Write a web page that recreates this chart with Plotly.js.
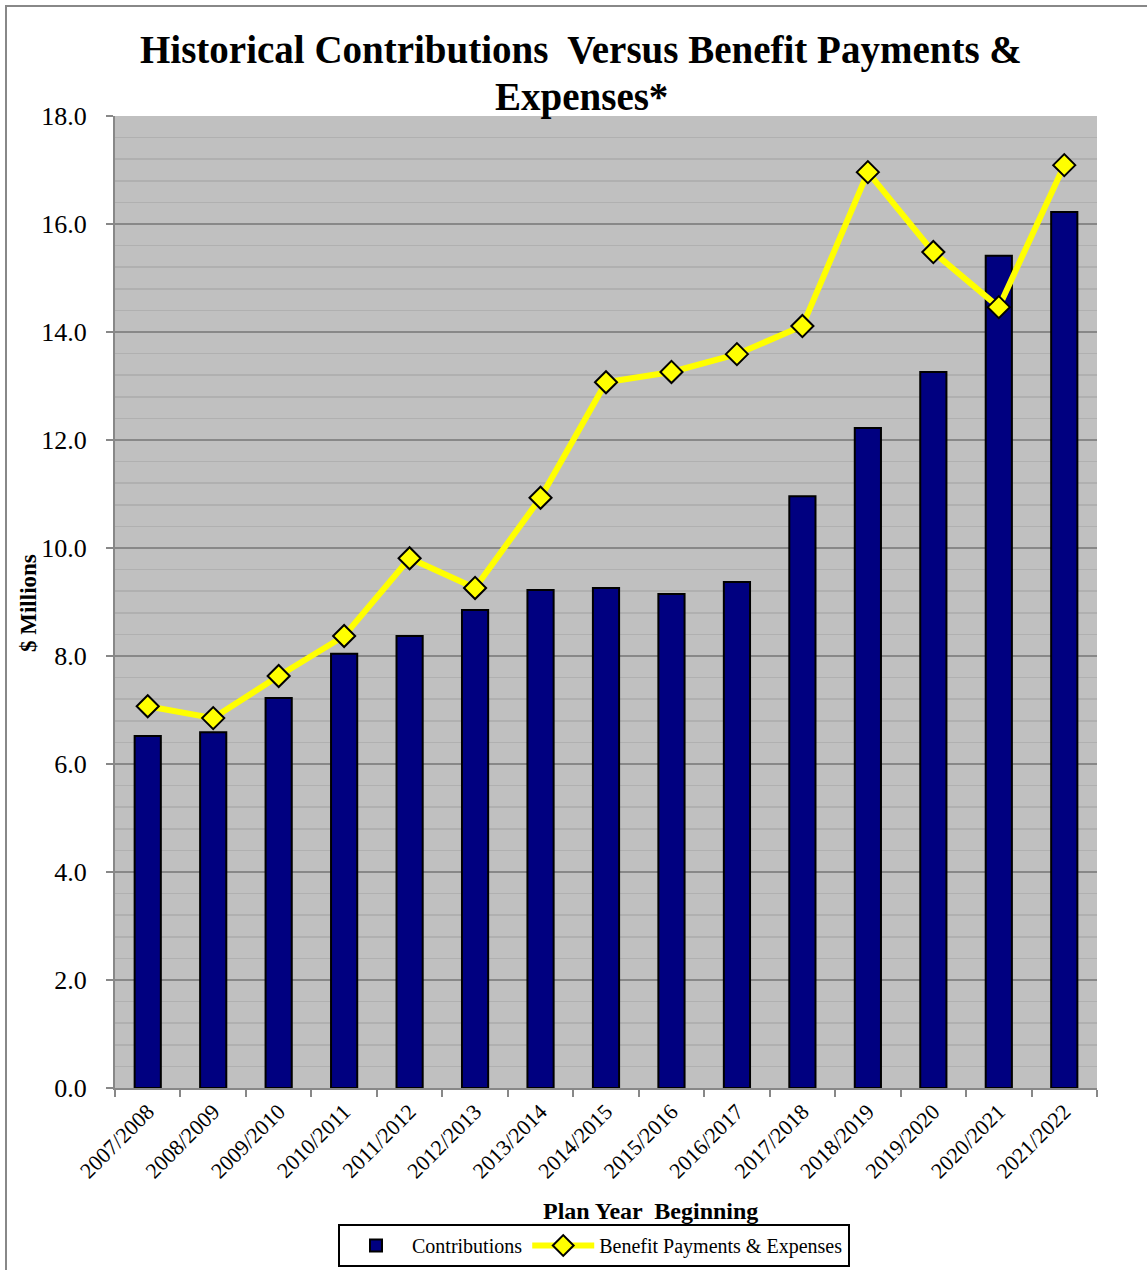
<!DOCTYPE html>
<html>
<head>
<meta charset="utf-8">
<script src="https://cdn.plot.ly/plotly-3.0.1.min.js"></script>
<style>
  html, body { margin: 0; padding: 0; background: #fff; }
  #wrap { position: relative; width: 1147px; height: 1270px; }
  #frame { position: absolute; left: 5px; top: 5px; right: 0; bottom: 0; border-left: 2px solid #888; border-top: 2px solid #888; pointer-events: none; }
  #chart { position: absolute; left: 0; top: 0; width: 1147px; height: 1270px; }
</style>
</head>
<body>
<div id="wrap">
  <div id="chart"></div>
  <div id="frame"></div>
</div>
<script>
const planYears = ["2007/2008","2008/2009","2009/2010","2010/2011","2011/2012","2012/2013","2013/2014","2014/2015","2015/2016","2016/2017","2017/2018","2018/2019","2019/2020","2020/2021","2021/2022"];
const contributions = [6.52, 6.59, 7.22, 8.04, 8.37, 8.85, 9.22, 9.26, 9.15, 9.37, 10.96, 12.22, 13.26, 15.41, 16.22];
const benefitPayments = [7.07, 6.85, 7.63, 8.37, 9.81, 9.26, 10.93, 13.07, 13.26, 13.59, 14.11, 16.96, 15.48, 14.46, 17.09];
const yTicks = [0, 2, 4, 6, 8, 10, 12, 14, 16, 18];
const titleLines = ["Historical Contributions  Versus Benefit Payments &", "Expenses*"];

const serif = "'Liberation Serif', 'Times New Roman', serif";
const L = 115, R = 1097, T = 116, B = 1088;
const px = x => (x - L) / (R - L);
const py = y => (B - y) / (B - T);

const traces = [
  {
    type: 'bar', name: 'Contributions', x: planYears, y: contributions,
    marker: { color: '#000080', line: { color: '#000000', width: 2 } }
  },
  {
    type: 'scatter', mode: 'lines+markers', name: 'Benefit Payments & Expenses',
    x: planYears, y: benefitPayments,
    line: { color: '#FFFF00', width: 6 },
    marker: { symbol: 'diamond', size: 17, color: '#FFFF00', line: { color: '#000000', width: 2 } }
  }
];

const layout = {
  width: 1147, height: 1270,
  margin: { l: L, r: 1147 - R, t: T, b: 1270 - B, autoexpand: false },
  paper_bgcolor: 'rgba(0,0,0,0)', plot_bgcolor: '#C0C0C0',
  font: { family: serif, color: '#000' },
  bargap: 0.6,
  showlegend: true,
  xaxis: {
    type: 'category', range: [-0.5, planYears.length - 0.5], automargin: false,
    tickangle: -45, tickson: 'boundaries',
    ticks: 'outside', ticklen: 7, tickwidth: 2, tickcolor: '#888',
    showline: true, linecolor: '#888', linewidth: 2,
    showgrid: false, tickfont: { family: serif, size: 22, color: '#000' }
  },
  yaxis: {
    range: [0, 18], tickvals: yTicks, tickformat: '.1f', automargin: false,
    ticks: 'outside', ticklen: 7, tickwidth: 2, tickcolor: '#888',
    ticklabelstandoff: 14,
    showline: true, linecolor: '#888', linewidth: 2,
    showgrid: true, gridcolor: '#888', gridwidth: 2, zeroline: false,
    minor: { dtick: 0.4, showgrid: true, gridcolor: '#B0B0B0', gridwidth: 1.5, ticks: '' },
    tickfont: { family: serif, size: 26, color: '#000' }
  },
  legend: {
    orientation: 'h', x: px(338), xanchor: 'left', y: py(1267), yanchor: 'bottom',
    bordercolor: '#000', borderwidth: 2, bgcolor: 'rgba(255,255,255,0)',
    font: { family: serif, size: 20, color: '#000' },
    itemwidth: 62, tracegroupgap: 0
  },
  annotations: [
    {
      text: '<b>' + titleLines[0] + '</b>', xref: 'paper', yref: 'paper',
      x: px(581), y: py(50), showarrow: false, xanchor: 'center', yanchor: 'middle',
      font: { family: serif, size: 39, color: '#000' }
    },
    {
      text: '<b>' + titleLines[1] + '</b>', xref: 'paper', yref: 'paper',
      x: px(581), y: py(97), showarrow: false, xanchor: 'center', yanchor: 'middle',
      font: { family: serif, size: 39, color: '#000' }
    },
    {
      text: '<b>$ Millions</b>', xref: 'paper', yref: 'paper',
      x: px(28), y: py(603), textangle: -90,
      showarrow: false, xanchor: 'center', yanchor: 'middle',
      font: { family: serif, size: 23, color: '#000' }
    },
    {
      text: '<b>Plan Year  Beginning</b>', xref: 'paper', yref: 'paper',
      x: px(650), y: py(1211),
      showarrow: false, xanchor: 'center', yanchor: 'middle',
      font: { family: serif, size: 24, color: '#000' }
    }
  ]
};

Plotly.newPlot('chart', traces, layout, { displayModeBar: false, staticPlot: true });
</script>
</body>
</html>
